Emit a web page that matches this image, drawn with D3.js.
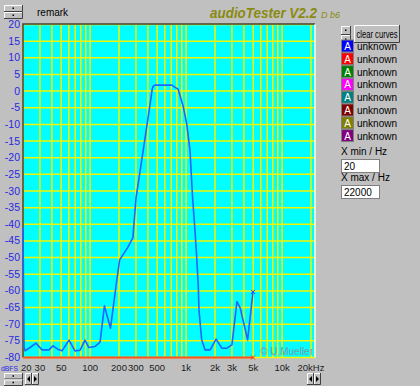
<!DOCTYPE html>
<html>
<head>
<meta charset="utf-8">
<script src="https://cdn.jsdelivr.net/npm/d3@7"></script>
<style>
  body { margin: 0; background: #c0c0c0; }
  svg { display: block; font-family: "Liberation Sans", Arial, sans-serif; }
</style>
</head>
<body>
<div id="chart"></div>
<script>
var freqHz = [20, 20.5, 21, 23.7, 27.3, 31.6, 37.3, 41, 46, 51, 60.3, 69.6, 78.6, 88.4, 97, 112, 127,
  141, 163, 190, 203, 246, 279, 301, 372, 445, 455, 474, 600, 708, 829, 934, 1012, 1097, 1169,
  1236, 1288, 1339, 1361, 1453, 1573, 1778, 2052, 2354, 2658, 3000, 3384, 3665, 4371, 4973];
var levelDb = [-41, -76.8, -78, -77, -75.7, -77.7, -77.7, -76.5, -77.5, -78, -74.8, -78, -77.8, -74.8, -77, -76.7, -75.4,
  -64.5, -71.2, -56.6, -50.7, -47, -44, -32, -14.5, 0.8, 1.5, 1.8, 1.8, 1.8, 0.5, -4.7, -9.7, -17.7, -32.2,
  -41.7, -49.7, -58.7, -65.7, -74.7, -77.7, -77.7, -74.5, -77.2, -77.2, -76.2, -63.2, -65.2, -74.7, -60.3];

// second curve lying on the floor
var floorHz = [20, 4973];
var floorDb = [-80, -80];

var xGridHz = [20, 30, 40, 50, 60, 70, 80, 90, 100, 200, 300, 400, 500, 600, 700, 800, 900,
  1000, 2000, 3000, 4000, 5000, 6000, 7000, 8000, 9000, 10000, 20000];
var xTickHz = [20, 30, 50, 100, 200, 300, 500, 1000, 2000, 3000, 5000, 10000, 20000];
var xTickText = ["20", "30", "50", "100", "200", "300", "500", "1k", "2k", "3k", "5k", "10k", "20kHz"];
var yTicks = [20, 15, 10, 5, 0, -5, -10, -15, -20, -25, -30, -35, -40, -45, -50, -55, -60, -65, -70, -75, -80];

var legendColors = ["#0000ff", "#ff0000", "#008000", "#ff00ff", "#008080", "#800000", "#808000", "#800080"];
var legendNames = ["unknown", "unknown", "unknown", "unknown", "unknown", "unknown", "unknown", "unknown"];

var W = 420, H = 386;
var x = d3.scaleLog().domain([20, 22000]).range([23, 315]);
var y = d3.scaleLinear().domain([-80, 20]).range([357.5, 24.5]);

var svg = d3.select("#chart").append("svg")
    .attr("width", W)
    .attr("height", H);

svg.append("rect").attr("width", W).attr("height", H).attr("fill", "#c0c0c0");

// plot area
svg.append("rect")
    .attr("x", x.range()[0]).attr("y", y.range()[1])
    .attr("width", x.range()[1] - x.range()[0])
    .attr("height", y.range()[0] - y.range()[1])
    .attr("fill", "#00ffff");

var grid = svg.append("g").attr("stroke", "#f4f400").attr("stroke-width", 1.5);
grid.selectAll("line.v").data(xGridHz).enter().append("line")
    .attr("class", "v")
    .attr("x1", function(d) { return x(d); }).attr("x2", function(d) { return x(d); })
    .attr("y1", y.range()[1]).attr("y2", y.range()[0]);
grid.selectAll("line.h").data(yTicks).enter().append("line")
    .attr("class", "h")
    .attr("x1", x.range()[0]).attr("x2", x.range()[1])
    .attr("y1", function(d) { return y(d); }).attr("y2", function(d) { return y(d); });

// sunken border
svg.append("path")
    .attr("d", "M" + x.range()[0] + "," + y.range()[0] + "V" + (y.range()[1] - 0.5) + "H" + x.range()[1])
    .attr("fill", "none").attr("stroke", "#404040").attr("stroke-width", 1.5);
svg.append("path")
    .attr("d", "M" + x.range()[1] + "," + y.range()[1] + "V" + y.range()[0])
    .attr("fill", "none").attr("stroke", "#ffffe0").attr("stroke-width", 1.5);

// copyright
svg.append("text").attr("x", 313).attr("y", 355)
    .attr("text-anchor", "end").attr("font-size", 10).attr("fill", "#7c98a4")
    .text("\u00a9 U.Mueller");

var line = d3.line()
    .x(function(d) { return x(d[0]); })
    .y(function(d) { return y(d[1]); });

// floor curve
var floorPts = d3.zip(floorHz, floorDb);
svg.append("path").datum(floorPts)
    .attr("d", line).attr("fill", "none").attr("stroke", "#ff5020").attr("stroke-width", 2);
drawX(floorPts[floorPts.length - 1], "#ff3000");

// main curve
var pts = d3.zip(freqHz, levelDb);
svg.append("path").datum(pts)
    .attr("d", line).attr("fill", "none").attr("stroke", "#1e64ff").attr("stroke-width", 1.6)
    .attr("stroke-linejoin", "round");
drawX(pts[pts.length - 1], "#1040ff");

function drawX(p, c) {
  var cx = x(p[0]), cy = y(p[1]);
  svg.append("path")
      .attr("d", "M" + (cx - 2) + "," + (cy - 2) + "L" + (cx + 2) + "," + (cy + 2) +
                 "M" + (cx - 2) + "," + (cy + 2) + "L" + (cx + 2) + "," + (cy - 2))
      .attr("stroke", c).attr("stroke-width", 1);
}

// y labels
svg.append("g").selectAll("text").data(yTicks).enter().append("text")
    .attr("x", 20).attr("y", function(d) { return y(d) + 3.5; })
    .attr("text-anchor", "end").attr("font-size", 10.5).attr("fill", "#2828e0")
    .text(function(d) { return d; });

// x labels
svg.append("g").selectAll("text").data(xTickHz).enter().append("text")
    .attr("x", function(d, i) { return i === 0 ? 21 : x(d); })
    .attr("y", 371)
    .attr("text-anchor", function(d, i) { return i === 0 ? "start" : "middle"; })
    .attr("font-size", 9.5).attr("fill", "#202020")
    .text(function(d, i) { return xTickText[i]; });
svg.append("text").attr("x", 1).attr("y", 371)
    .attr("font-size", 8).attr("textLength", 17).attr("lengthAdjust", "spacingAndGlyphs")
    .attr("fill", "#2828e0").text("dBFS");

// title
svg.append("text").attr("x", 210).attr("y", 18)
    .attr("font-size", 14).attr("font-weight", "bold").attr("font-style", "italic")
    .attr("textLength", 107).attr("lengthAdjust", "spacingAndGlyphs")
    .attr("fill", "#8a8a10").text("audioTester V2.2");
svg.append("text").attr("x", 321).attr("y", 18)
    .attr("font-size", 9).attr("font-style", "italic")
    .attr("fill", "#8a8a10").text("D b6");
svg.append("text").attr("x", 37).attr("y", 16)
    .attr("font-size", 10).attr("fill", "#000").text("remark");

// windows style buttons
function bevel(bx, by, bw, bh) {
  svg.append("rect").attr("x", bx).attr("y", by).attr("width", bw).attr("height", bh).attr("fill", "#c0c0c0");
  svg.append("path").attr("d", "M" + (bx + 0.5) + "," + (by + bh) + "V" + (by + 0.5) + "H" + (bx + bw))
      .attr("fill", "none").attr("stroke", "#ffffff");
  svg.append("path").attr("d", "M" + (bx + bw - 0.5) + "," + by + "V" + (by + bh - 0.5) + "H" + bx)
      .attr("fill", "none").attr("stroke", "#404040");
}
function spin(bx, by, bw, bh) {
  bevel(bx, by, bw, bh / 2);
  bevel(bx, by + bh / 2, bw, bh / 2);
  svg.append("rect").attr("x", bx + bw / 2 - 1).attr("y", by + bh / 4 - 1).attr("width", 1.5).attr("height", 1.5).attr("fill", "#000");
  svg.append("rect").attr("x", bx + bw / 2 - 1).attr("y", by + 3 * bh / 4 - 1).attr("width", 1.5).attr("height", 1.5).attr("fill", "#000");
}
function arrows(bx, by) {
  bevel(bx, by, 7, 12);
  bevel(bx + 7, by, 7, 12);
  svg.append("path").attr("d", "M" + (bx + 2) + "," + (by + 6) + "l3,-3v6z").attr("fill", "#000");
  svg.append("path").attr("d", "M" + (bx + 12) + "," + (by + 6) + "l-3,-3v6z").attr("fill", "#000");
}
spin(4, 5, 19, 14);
spin(4, 373, 19, 13);
arrows(25, 373);
arrows(307, 373);
spin(341, 26, 10, 18);

bevel(354, 25, 46, 18);
svg.append("text").attr("x", 377).attr("y", 38).attr("text-anchor", "middle")
    .attr("font-size", 10).attr("textLength", 41).attr("lengthAdjust", "spacingAndGlyphs")
    .attr("fill", "#000").text("clear curves");

// legend
var leg = svg.append("g").selectAll("g").data(legendColors).enter().append("g")
    .attr("transform", function(d, i) { return "translate(341," + (39.5 + i * 12.8) + ")"; });
leg.append("rect").attr("x", 0.5).attr("y", 0.5).attr("width", 12).attr("height", 12)
    .attr("fill", function(d) { return d; }).attr("stroke", "#808080");
leg.append("text").attr("x", 6.5).attr("y", 10.5).attr("text-anchor", "middle")
    .attr("font-size", 10).attr("fill", "#fff").text("A");
leg.append("text").attr("x", 16).attr("y", 10.5)
    .attr("font-size", 10).attr("fill", "#000")
    .text(function(d, i) { return legendNames[i]; });

// x range fields
function field(fy, label, val) {
  svg.append("text").attr("x", 341).attr("y", fy).attr("font-size", 10).attr("fill", "#000").text(label);
  svg.append("rect").attr("x", 341.5).attr("y", fy + 4.5).attr("width", 38).attr("height", 13)
      .attr("fill", "#fff").attr("stroke", "#808080");
  svg.append("text").attr("x", 344).attr("y", fy + 15).attr("font-size", 10).attr("fill", "#000").text(val);
}
field(155, "X min / Hz", "20");
field(181, "X max / Hz", "22000");
</script>
</body>
</html>
